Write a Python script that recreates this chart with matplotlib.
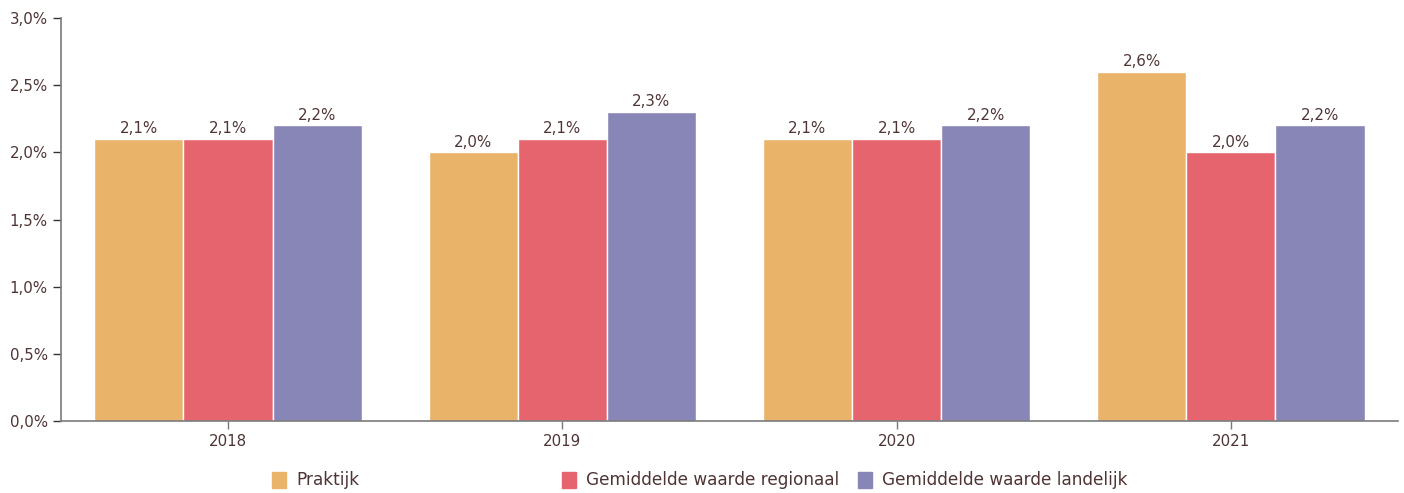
import numpy as np
import matplotlib.pyplot as plt
from matplotlib.patches import Rectangle

# Data
years = ["2018", "2019", "2020", "2021"]
praktijk = [2.1, 2.0, 2.1, 2.6]
regionaal = [2.1, 2.1, 2.1, 2.0]
landelijk = [2.2, 2.3, 2.2, 2.2]
series_labels = ["Praktijk", "Gemiddelde waarde regionaal", "Gemiddelde waarde landelijk"]
colors = ["#E9B36A", "#E5646E", "#8886B6"]

text_col = "#4F3434"
axis_col = "#7A7A7A"
plt.rcParams['font.family'] = ['DejaVu Sans']

fig = plt.figure(figsize=(14.04, 4.93), dpi=100)
ax = fig.add_axes([0.0434, 0.146, 0.9523, 0.8175])

x = np.arange(len(years))
w = 0.8 / 3
for i, vals in enumerate([praktijk, regionaal, landelijk]):
    bars = ax.bar(x + (i - 1) * w, vals, width=w, color=colors[i],
                  edgecolor="white", linewidth=1)
    for b, v in zip(bars, vals):
        ax.text(b.get_x() + b.get_width() / 2, v + 0.02,
                f"{v:.1f}%".replace(".", ","), ha="center", va="bottom",
                fontsize=10.8, color=text_col)

ax.set_xlim(-0.5, len(years) - 0.5)
ax.set_ylim(0, 3.0)
ax.set_yticks(np.arange(0, 3.01, 0.5))
ax.set_yticklabels([f"{t:.1f}%".replace(".", ",") for t in np.arange(0, 3.01, 0.5)])
ax.set_xticks(x)
ax.set_xticklabels(years)

for s in ["top", "right"]:
    ax.spines[s].set_visible(False)
for s in ["left", "bottom"]:
    ax.spines[s].set_color(axis_col)
    ax.spines[s].set_linewidth(1.2)
ax.tick_params(axis="both", colors=text_col, labelsize=10.8, length=6,
               width=1, direction="out")
ax.tick_params(axis="y", color="#333333")
ax.tick_params(axis="x", color=axis_col)

# Legend drawn manually
leg_x = [272, 562, 858]
for lx, lab, c in zip(leg_x, series_labels, colors):
    fig.add_artist(Rectangle((lx / 1404, 1 - 488 / 493), 14 / 1404, 16 / 493,
                             transform=fig.transFigure, color=c))
    fig.text((lx + 24) / 1404, 1 - 480 / 493, lab, fontsize=12.2,
             color=text_col, va="center", ha="left")

fig.savefig("out.png", dpi=100)
